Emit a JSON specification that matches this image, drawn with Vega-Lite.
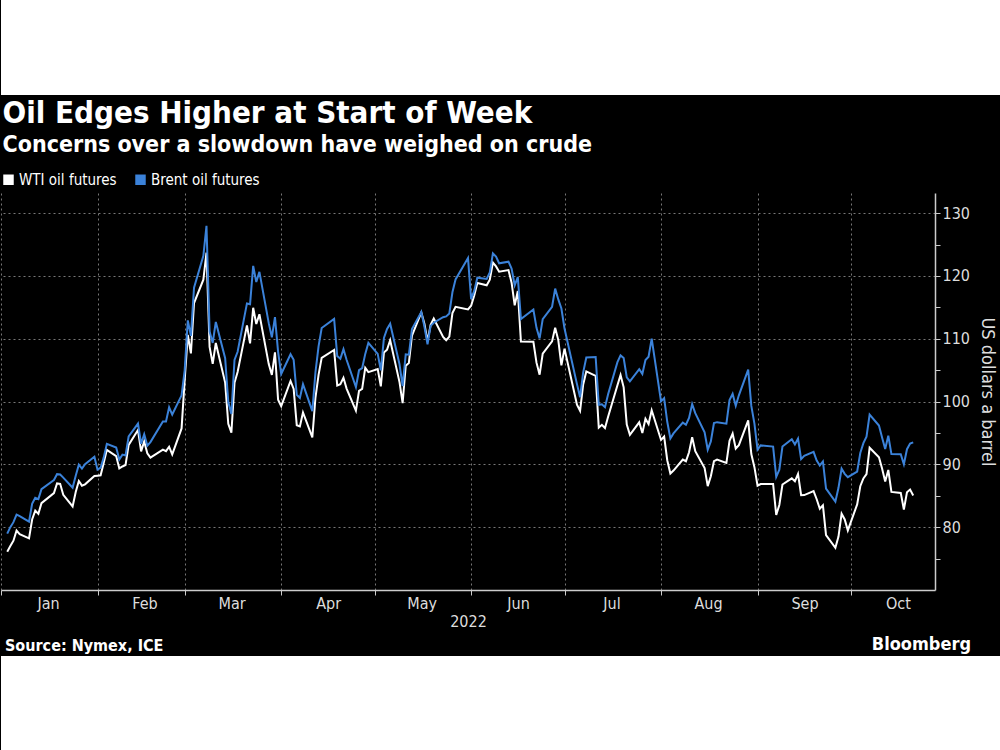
{
  "$schema": "https://vega.github.io/schema/vega-lite/v6.json",
  "background": "black",
  "padding": 0,
  "spacing": 3,
  "resolve": {"legend": {"color": "independent"}, "scale": {"color": "independent"}},
  "config": {
    "font": "DejaVu Sans Condensed",
    "view": {"stroke": null}
  },
  "vconcat": [
    {
      "width": 1000,
      "height": 95,
      "view": {"fill": "white", "stroke": null},
      "data": {"values": []},
      "mark": "point",
      "encoding": {}
    },
    {
      "width": 934,
      "height": 397,
      "view": {"fill": "black", "stroke": null},
      "title": {
        "text": "Oil Edges Higher at Start of Week",
        "subtitle": "Concerns over a slowdown have weighed on crude",
        "anchor": "start",
        "color": "white",
        "subtitleColor": "white",
        "font": "DejaVu Sans Condensed",
        "fontSize": 31,
        "fontWeight": "bold",
        "subtitleFont": "DejaVu Sans Condensed",
        "subtitleFontSize": 23,
        "subtitleFontWeight": "bold",
        "subtitlePadding": 4,
        "offset": 14,
        "dx": 2
      },
      "data": {
        "values": [
          {"date": "2022-01-03", "WTI": 76.08, "Brent": 78.98},
          {"date": "2022-01-04", "WTI": 76.99, "Brent": 80.00},
          {"date": "2022-01-05", "WTI": 77.85, "Brent": 80.80},
          {"date": "2022-01-06", "WTI": 79.46, "Brent": 81.99},
          {"date": "2022-01-07", "WTI": 78.90, "Brent": 81.75},
          {"date": "2022-01-10", "WTI": 78.23, "Brent": 80.87},
          {"date": "2022-01-11", "WTI": 81.22, "Brent": 83.72},
          {"date": "2022-01-12", "WTI": 82.64, "Brent": 84.67},
          {"date": "2022-01-13", "WTI": 82.12, "Brent": 84.47},
          {"date": "2022-01-14", "WTI": 83.82, "Brent": 86.06},
          {"date": "2022-01-18", "WTI": 85.43, "Brent": 87.51},
          {"date": "2022-01-19", "WTI": 86.96, "Brent": 88.44},
          {"date": "2022-01-20", "WTI": 86.90, "Brent": 88.38},
          {"date": "2022-01-21", "WTI": 85.14, "Brent": 87.89},
          {"date": "2022-01-24", "WTI": 83.31, "Brent": 86.27},
          {"date": "2022-01-25", "WTI": 85.60, "Brent": 88.20},
          {"date": "2022-01-26", "WTI": 87.35, "Brent": 89.96},
          {"date": "2022-01-27", "WTI": 86.61, "Brent": 89.34},
          {"date": "2022-01-28", "WTI": 86.82, "Brent": 90.03},
          {"date": "2022-01-31", "WTI": 88.15, "Brent": 91.21},
          {"date": "2022-02-01", "WTI": 88.20, "Brent": 89.16},
          {"date": "2022-02-02", "WTI": 88.26, "Brent": 89.47},
          {"date": "2022-02-03", "WTI": 90.27, "Brent": 91.11},
          {"date": "2022-02-04", "WTI": 92.31, "Brent": 93.27},
          {"date": "2022-02-07", "WTI": 91.32, "Brent": 92.69},
          {"date": "2022-02-08", "WTI": 89.36, "Brent": 90.78},
          {"date": "2022-02-09", "WTI": 89.66, "Brent": 91.55},
          {"date": "2022-02-10", "WTI": 89.88, "Brent": 91.41},
          {"date": "2022-02-11", "WTI": 93.10, "Brent": 94.44},
          {"date": "2022-02-14", "WTI": 95.46, "Brent": 96.48},
          {"date": "2022-02-15", "WTI": 92.07, "Brent": 93.28},
          {"date": "2022-02-16", "WTI": 93.66, "Brent": 94.81},
          {"date": "2022-02-17", "WTI": 91.76, "Brent": 92.97},
          {"date": "2022-02-18", "WTI": 91.07, "Brent": 93.54},
          {"date": "2022-02-22", "WTI": 92.35, "Brent": 96.84},
          {"date": "2022-02-23", "WTI": 92.10, "Brent": 96.84},
          {"date": "2022-02-24", "WTI": 92.81, "Brent": 99.08},
          {"date": "2022-02-25", "WTI": 91.59, "Brent": 97.93},
          {"date": "2022-02-28", "WTI": 95.72, "Brent": 100.99},
          {"date": "2022-03-01", "WTI": 103.41, "Brent": 104.97},
          {"date": "2022-03-02", "WTI": 110.60, "Brent": 112.93},
          {"date": "2022-03-03", "WTI": 107.67, "Brent": 110.46},
          {"date": "2022-03-04", "WTI": 115.68, "Brent": 118.11},
          {"date": "2022-03-07", "WTI": 119.40, "Brent": 123.21},
          {"date": "2022-03-08", "WTI": 123.70, "Brent": 127.98},
          {"date": "2022-03-09", "WTI": 108.70, "Brent": 111.14},
          {"date": "2022-03-10", "WTI": 106.02, "Brent": 109.33},
          {"date": "2022-03-11", "WTI": 109.33, "Brent": 112.67},
          {"date": "2022-03-14", "WTI": 103.01, "Brent": 106.90},
          {"date": "2022-03-15", "WTI": 96.44, "Brent": 99.91},
          {"date": "2022-03-16", "WTI": 95.04, "Brent": 98.02},
          {"date": "2022-03-17", "WTI": 102.98, "Brent": 106.64},
          {"date": "2022-03-18", "WTI": 104.70, "Brent": 107.93},
          {"date": "2022-03-21", "WTI": 112.12, "Brent": 115.62},
          {"date": "2022-03-22", "WTI": 109.27, "Brent": 115.48},
          {"date": "2022-03-23", "WTI": 114.93, "Brent": 121.60},
          {"date": "2022-03-24", "WTI": 112.34, "Brent": 119.03},
          {"date": "2022-03-25", "WTI": 113.90, "Brent": 120.65},
          {"date": "2022-03-28", "WTI": 105.96, "Brent": 112.48},
          {"date": "2022-03-29", "WTI": 104.24, "Brent": 110.23},
          {"date": "2022-03-30", "WTI": 107.82, "Brent": 113.45},
          {"date": "2022-03-31", "WTI": 100.28, "Brent": 107.91},
          {"date": "2022-04-01", "WTI": 99.27, "Brent": 104.39},
          {"date": "2022-04-04", "WTI": 103.28, "Brent": 107.53},
          {"date": "2022-04-05", "WTI": 102.00, "Brent": 106.64},
          {"date": "2022-04-06", "WTI": 96.23, "Brent": 101.07},
          {"date": "2022-04-07", "WTI": 96.03, "Brent": 100.58},
          {"date": "2022-04-08", "WTI": 98.26, "Brent": 102.78},
          {"date": "2022-04-11", "WTI": 94.29, "Brent": 98.48},
          {"date": "2022-04-12", "WTI": 100.60, "Brent": 104.64},
          {"date": "2022-04-13", "WTI": 104.25, "Brent": 108.78},
          {"date": "2022-04-14", "WTI": 106.95, "Brent": 111.70},
          {"date": "2022-04-18", "WTI": 108.21, "Brent": 113.16},
          {"date": "2022-04-19", "WTI": 102.56, "Brent": 107.25},
          {"date": "2022-04-20", "WTI": 102.75, "Brent": 106.80},
          {"date": "2022-04-21", "WTI": 103.79, "Brent": 108.33},
          {"date": "2022-04-22", "WTI": 102.07, "Brent": 106.65},
          {"date": "2022-04-25", "WTI": 98.54, "Brent": 102.32},
          {"date": "2022-04-26", "WTI": 101.70, "Brent": 104.99},
          {"date": "2022-04-27", "WTI": 102.02, "Brent": 105.32},
          {"date": "2022-04-28", "WTI": 105.36, "Brent": 107.59},
          {"date": "2022-04-29", "WTI": 104.69, "Brent": 109.34},
          {"date": "2022-05-02", "WTI": 105.17, "Brent": 107.58},
          {"date": "2022-05-03", "WTI": 102.41, "Brent": 104.97},
          {"date": "2022-05-04", "WTI": 107.81, "Brent": 110.14},
          {"date": "2022-05-05", "WTI": 108.26, "Brent": 111.55},
          {"date": "2022-05-06", "WTI": 109.77, "Brent": 112.39},
          {"date": "2022-05-09", "WTI": 103.09, "Brent": 105.94},
          {"date": "2022-05-10", "WTI": 99.76, "Brent": 102.46},
          {"date": "2022-05-11", "WTI": 105.71, "Brent": 107.51},
          {"date": "2022-05-12", "WTI": 106.13, "Brent": 107.45},
          {"date": "2022-05-13", "WTI": 110.49, "Brent": 111.55},
          {"date": "2022-05-16", "WTI": 114.20, "Brent": 114.24},
          {"date": "2022-05-17", "WTI": 112.40, "Brent": 111.93},
          {"date": "2022-05-18", "WTI": 109.59, "Brent": 109.11},
          {"date": "2022-05-19", "WTI": 112.21, "Brent": 112.04},
          {"date": "2022-05-20", "WTI": 113.23, "Brent": 112.55},
          {"date": "2022-05-23", "WTI": 110.29, "Brent": 113.42},
          {"date": "2022-05-24", "WTI": 109.77, "Brent": 113.56},
          {"date": "2022-05-25", "WTI": 110.33, "Brent": 114.03},
          {"date": "2022-05-26", "WTI": 114.09, "Brent": 117.40},
          {"date": "2022-05-27", "WTI": 115.07, "Brent": 119.43},
          {"date": "2022-05-31", "WTI": 114.67, "Brent": 122.84},
          {"date": "2022-06-01", "WTI": 115.26, "Brent": 116.29},
          {"date": "2022-06-02", "WTI": 116.87, "Brent": 117.61},
          {"date": "2022-06-03", "WTI": 118.87, "Brent": 119.72},
          {"date": "2022-06-06", "WTI": 118.50, "Brent": 119.51},
          {"date": "2022-06-07", "WTI": 119.41, "Brent": 120.57},
          {"date": "2022-06-08", "WTI": 122.11, "Brent": 123.58},
          {"date": "2022-06-09", "WTI": 121.51, "Brent": 123.07},
          {"date": "2022-06-10", "WTI": 120.67, "Brent": 122.01},
          {"date": "2022-06-13", "WTI": 120.93, "Brent": 122.27},
          {"date": "2022-06-14", "WTI": 118.93, "Brent": 121.17},
          {"date": "2022-06-15", "WTI": 115.31, "Brent": 118.51},
          {"date": "2022-06-16", "WTI": 117.59, "Brent": 119.81},
          {"date": "2022-06-17", "WTI": 109.56, "Brent": 113.12},
          {"date": "2022-06-21", "WTI": 109.52, "Brent": 114.65},
          {"date": "2022-06-22", "WTI": 106.19, "Brent": 111.74},
          {"date": "2022-06-23", "WTI": 104.27, "Brent": 110.05},
          {"date": "2022-06-24", "WTI": 107.62, "Brent": 113.12},
          {"date": "2022-06-27", "WTI": 109.57, "Brent": 115.09},
          {"date": "2022-06-28", "WTI": 111.76, "Brent": 117.98},
          {"date": "2022-06-29", "WTI": 109.78, "Brent": 116.26},
          {"date": "2022-06-30", "WTI": 105.76, "Brent": 114.81},
          {"date": "2022-07-01", "WTI": 108.43, "Brent": 111.63},
          {"date": "2022-07-05", "WTI": 99.50, "Brent": 102.77},
          {"date": "2022-07-06", "WTI": 98.53, "Brent": 100.69},
          {"date": "2022-07-07", "WTI": 102.73, "Brent": 104.65},
          {"date": "2022-07-08", "WTI": 104.79, "Brent": 107.02},
          {"date": "2022-07-11", "WTI": 104.09, "Brent": 107.10},
          {"date": "2022-07-12", "WTI": 95.84, "Brent": 99.49},
          {"date": "2022-07-13", "WTI": 96.30, "Brent": 99.57},
          {"date": "2022-07-14", "WTI": 95.78, "Brent": 99.10},
          {"date": "2022-07-15", "WTI": 97.59, "Brent": 101.16},
          {"date": "2022-07-18", "WTI": 102.60, "Brent": 106.27},
          {"date": "2022-07-19", "WTI": 104.22, "Brent": 107.35},
          {"date": "2022-07-20", "WTI": 102.26, "Brent": 106.92},
          {"date": "2022-07-21", "WTI": 96.35, "Brent": 103.86},
          {"date": "2022-07-22", "WTI": 94.70, "Brent": 103.20},
          {"date": "2022-07-25", "WTI": 96.70, "Brent": 105.15},
          {"date": "2022-07-26", "WTI": 94.98, "Brent": 104.40},
          {"date": "2022-07-27", "WTI": 97.26, "Brent": 106.62},
          {"date": "2022-07-28", "WTI": 96.42, "Brent": 107.14},
          {"date": "2022-07-29", "WTI": 98.62, "Brent": 110.01},
          {"date": "2022-08-01", "WTI": 93.89, "Brent": 100.03},
          {"date": "2022-08-02", "WTI": 94.42, "Brent": 100.54},
          {"date": "2022-08-03", "WTI": 90.66, "Brent": 96.78},
          {"date": "2022-08-04", "WTI": 88.54, "Brent": 94.12},
          {"date": "2022-08-05", "WTI": 89.01, "Brent": 94.92},
          {"date": "2022-08-08", "WTI": 90.76, "Brent": 96.65},
          {"date": "2022-08-09", "WTI": 90.50, "Brent": 96.31},
          {"date": "2022-08-10", "WTI": 91.93, "Brent": 97.40},
          {"date": "2022-08-11", "WTI": 94.34, "Brent": 99.60},
          {"date": "2022-08-12", "WTI": 92.09, "Brent": 98.15},
          {"date": "2022-08-15", "WTI": 89.41, "Brent": 95.10},
          {"date": "2022-08-16", "WTI": 86.53, "Brent": 92.34},
          {"date": "2022-08-17", "WTI": 88.11, "Brent": 93.65},
          {"date": "2022-08-18", "WTI": 90.50, "Brent": 96.59},
          {"date": "2022-08-19", "WTI": 90.77, "Brent": 96.72},
          {"date": "2022-08-22", "WTI": 90.23, "Brent": 96.48},
          {"date": "2022-08-23", "WTI": 93.74, "Brent": 100.22},
          {"date": "2022-08-24", "WTI": 94.89, "Brent": 101.22},
          {"date": "2022-08-25", "WTI": 92.52, "Brent": 99.34},
          {"date": "2022-08-26", "WTI": 93.06, "Brent": 100.99},
          {"date": "2022-08-29", "WTI": 97.01, "Brent": 105.09},
          {"date": "2022-08-30", "WTI": 91.64, "Brent": 99.31},
          {"date": "2022-08-31", "WTI": 89.55, "Brent": 96.49},
          {"date": "2022-09-01", "WTI": 86.61, "Brent": 92.36},
          {"date": "2022-09-02", "WTI": 86.87, "Brent": 93.02},
          {"date": "2022-09-06", "WTI": 86.88, "Brent": 92.83},
          {"date": "2022-09-07", "WTI": 81.94, "Brent": 88.00},
          {"date": "2022-09-08", "WTI": 83.54, "Brent": 89.15},
          {"date": "2022-09-09", "WTI": 86.79, "Brent": 92.84},
          {"date": "2022-09-12", "WTI": 87.78, "Brent": 94.00},
          {"date": "2022-09-13", "WTI": 87.31, "Brent": 93.17},
          {"date": "2022-09-14", "WTI": 88.48, "Brent": 94.10},
          {"date": "2022-09-15", "WTI": 85.10, "Brent": 90.84},
          {"date": "2022-09-16", "WTI": 85.11, "Brent": 91.35},
          {"date": "2022-09-19", "WTI": 85.73, "Brent": 92.00},
          {"date": "2022-09-20", "WTI": 84.45, "Brent": 90.62},
          {"date": "2022-09-21", "WTI": 82.94, "Brent": 89.83},
          {"date": "2022-09-22", "WTI": 83.49, "Brent": 90.46},
          {"date": "2022-09-23", "WTI": 78.74, "Brent": 86.15},
          {"date": "2022-09-26", "WTI": 76.71, "Brent": 84.06},
          {"date": "2022-09-27", "WTI": 78.50, "Brent": 86.27},
          {"date": "2022-09-28", "WTI": 82.15, "Brent": 89.32},
          {"date": "2022-09-29", "WTI": 81.23, "Brent": 88.49},
          {"date": "2022-09-30", "WTI": 79.49, "Brent": 87.96},
          {"date": "2022-10-03", "WTI": 83.63, "Brent": 88.86},
          {"date": "2022-10-04", "WTI": 86.52, "Brent": 91.80},
          {"date": "2022-10-05", "WTI": 87.76, "Brent": 93.37},
          {"date": "2022-10-06", "WTI": 88.45, "Brent": 94.42},
          {"date": "2022-10-07", "WTI": 92.64, "Brent": 97.92},
          {"date": "2022-10-10", "WTI": 91.13, "Brent": 96.19},
          {"date": "2022-10-11", "WTI": 89.35, "Brent": 94.29},
          {"date": "2022-10-12", "WTI": 87.27, "Brent": 92.45},
          {"date": "2022-10-13", "WTI": 89.11, "Brent": 94.57},
          {"date": "2022-10-14", "WTI": 85.61, "Brent": 91.63},
          {"date": "2022-10-17", "WTI": 85.46, "Brent": 91.62},
          {"date": "2022-10-18", "WTI": 82.82, "Brent": 90.03},
          {"date": "2022-10-19", "WTI": 85.55, "Brent": 92.41},
          {"date": "2022-10-20", "WTI": 85.98, "Brent": 93.30},
          {"date": "2022-10-21", "WTI": 85.05, "Brent": 93.50}
        ]
      },
      "transform": [{"fold": ["WTI", "Brent"], "as": ["series", "price"]}],
      "mark": {"type": "line", "strokeWidth": 2, "clip": true},
      "encoding": {
        "x": {
          "field": "date",
          "type": "temporal",
          "scale": {
            "type": "utc",
            "domain": [
              {"year": 2022, "month": 1, "date": 1, "utc": true},
              {"year": 2022, "month": 10, "date": 28, "utc": true}
            ]
          },
          "axis": {
            "values": [
              {"year": 2022, "month": 1, "date": 1, "utc": true},
              {"year": 2022, "month": 2, "date": 1, "utc": true},
              {"year": 2022, "month": 3, "date": 1, "utc": true},
              {"year": 2022, "month": 4, "date": 1, "utc": true},
              {"year": 2022, "month": 5, "date": 1, "utc": true},
              {"year": 2022, "month": 6, "date": 1, "utc": true},
              {"year": 2022, "month": 7, "date": 1, "utc": true},
              {"year": 2022, "month": 8, "date": 1, "utc": true},
              {"year": 2022, "month": 9, "date": 1, "utc": true},
              {"year": 2022, "month": 10, "date": 1, "utc": true}
            ],
            "labelExpr": "utcFormat(datum.value, '%b')",
            "labelOffset": 47,
            "labelFlush": false,
            "labelBound": false,
            "labelOverlap": false,
            "labelColor": "#dddddd",
            "labelFontSize": 16,
            "labelFont": "DejaVu Sans Condensed",
            "labelPadding": 0,
            "grid": true,
            "gridColor": "#777777",
            "gridDash": [2, 3],
            "gridWidth": 1,
            "domainColor": "#cccccc",
            "domainWidth": 1.5,
            "tickColor": "#cccccc",
            "tickSize": 5,
            "title": "2022",
            "titleColor": "#dddddd",
            "titleFont": "DejaVu Sans Condensed",
            "titleFontSize": 16,
            "titleFontWeight": "normal",
            "titlePadding": 2
          }
        },
        "y": {
          "field": "price",
          "type": "quantitative",
          "scale": {"domain": [70, 133.2], "nice": false, "zero": false},
          "axis": {
            "orient": "right",
            "values": [75, 80, 85, 90, 95, 100, 105, 110, 115, 120, 125, 130],
            "labelExpr": "datum.value % 10 === 0 ? datum.label : ''",
            "grid": true,
            "gridColor": "#777777",
            "gridDash": [2, 3],
            "gridOpacity": {"condition": {"test": "datum.value % 10 === 0", "value": 1}, "value": 0},
            "domainColor": "#cccccc",
            "domainWidth": 1.5,
            "tickColor": "#cccccc",
            "tickSize": 5,
            "labelColor": "#dddddd",
            "labelFontSize": 16,
            "labelFont": "DejaVu Sans Condensed",
            "labelPadding": 2,
            "title": "US dollars a barrel",
            "titleColor": "#dddddd",
            "titleFont": "DejaVu Sans Condensed",
            "titleFontSize": 18,
            "titleFontWeight": "normal",
            "titlePadding": 8
          }
        },
        "color": {
          "field": "series",
          "type": "nominal",
          "sort": ["WTI", "Brent"],
          "scale": {"domain": ["WTI", "Brent"], "range": ["#ffffff", "#3b82d9"]},
          "legend": {
            "orient": "top",
            "direction": "horizontal",
            "title": null,
            "symbolType": "square",
            "symbolSize": 110,
            "symbolStrokeWidth": 0,
            "labelExpr": "datum.label + ' oil futures'",
            "labelColor": "white",
            "labelFontSize": 15,
            "labelFont": "DejaVu Sans Condensed",
            "labelOffset": 3,
            "columnPadding": 16,
            "offset": 5,
            "padding": 0,
            "encode": {
              "symbols": {"update": {"fill": {"signal": "datum.value === 'WTI' ? '#ffffff' : '#3b82d9'"}, "fillOpacity": {"value": 1}}}
            }
          }
        }
      }
    },
    {
      "spacing": 0,
      "hconcat": [
        {
          "width": 500,
          "height": 95,
          "view": {"fill": "white", "stroke": null},
          "title": {
            "text": ["", "Source: Nymex, ICE"],
            "lineHeight": 4,
            "anchor": "start",
            "color": "white",
            "font": "DejaVu Sans Condensed",
            "fontSize": 16,
            "fontWeight": "bold",
            "offset": 2,
            "dx": 4
          },
          "data": {"values": []},
          "mark": "point",
          "encoding": {}
        },
        {
          "width": 500,
          "height": 95,
          "view": {"fill": "white", "stroke": null},
          "title": {
            "text": ["", "Bloomberg"],
            "lineHeight": 4,
            "anchor": "end",
            "color": "white",
            "font": "DejaVu Sans Condensed",
            "fontSize": 18,
            "fontWeight": "bold",
            "offset": 2,
            "dx": -30
          },
          "data": {"values": []},
          "mark": "point",
          "encoding": {}
        }
      ]
    }
  ]
}
